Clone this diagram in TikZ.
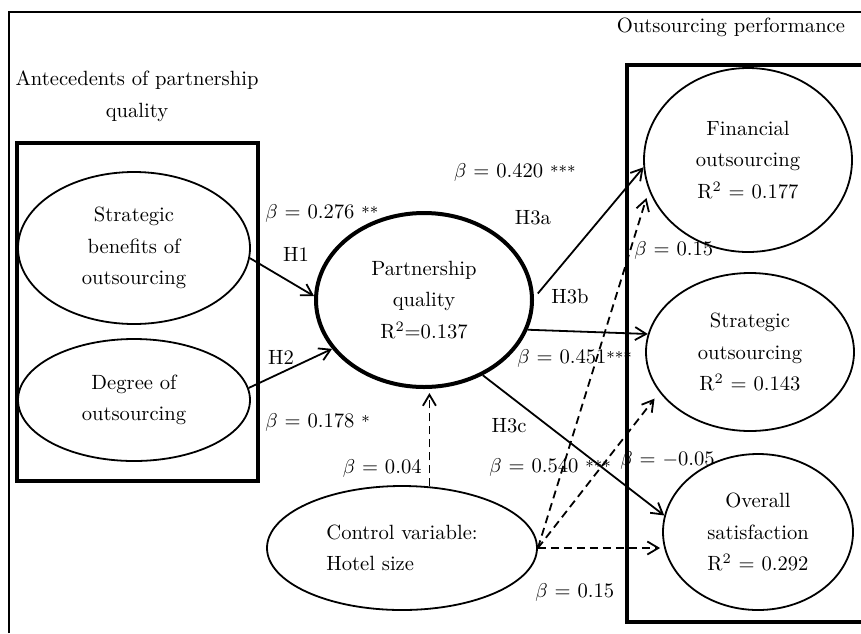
\documentclass[tikz,border=0pt]{standalone}
\usetikzlibrary{shapes.geometric,arrows.meta}
\newcommand{\rsq}{R\textsuperscript{2}}
\newcommand{\sig}[1]{{\footnotesize #1}}

\begin{document}
\begin{tikzpicture}[x=0.5pt, y=-0.5pt,
    >={Straight Barb[length=5.5pt,width=6.5pt]},
    every node/.style={font=\fontsize{10.3}{15.8}\selectfont},
    latent/.style={draw, ellipse, line width=0.9pt, inner sep=0pt, align=center},
    link/.style={->, line width=0.9pt},
    ctrllink/.style={->, dash pattern=on 4pt off 2.5pt, line width=0.9pt},
    pathlabel/.style={inner sep=0pt},
    groupbox/.style={line width=2.2pt}]
      \useasboundingbox (0,0) rectangle (861,633);

      % frame
      \draw[line width=0.85pt] (9,633) -- (9,12) -- (861,12);

      % group headings
      \node[align=center] (antlabel) at (137,96) {Antecedents of partnership\\quality};
      \node (perflabel) at (731,27) {Outsourcing performance};

      % constructs
      \node[latent, minimum width=116pt, minimum height=76pt] (strategic) at (134,248) {Strategic\\benefits of\\outsourcing};
      \node[latent, minimum width=116pt, minimum height=61pt] (degree) at (134,400) {Degree of\\outsourcing};
      \node[latent, line width=2pt, minimum width=108pt, minimum height=87pt] (partnership) at (424,300) {Partnership\\quality\\\rsq=0.137};
      \node[latent, minimum width=104pt, minimum height=92pt] (financial) at (748,160) {Financial\\outsourcing\\\rsq{} = 0.177};
      \node[latent, minimum width=104pt, minimum height=79pt] (stratout) at (750,352) {Strategic\\outsourcing\\\rsq{} = 0.143};
      \node[latent, minimum width=95pt, minimum height=78pt] (overall) at (758,532) {Overall\\satisfaction\\\rsq{} = 0.292};
      \node[latent, align=left, minimum width=135pt, minimum height=62pt] (control) at (402,548) {Control variable:\\Hotel size};

      % hypotheses
      \draw[link] (strategic.-5) -- (partnership.178);
      \draw[link] (degree.6) -- (partnership.208);
      \draw[link, shorten <=3pt] (partnership.1.5) -- (financial.184);
      \draw[link] (partnership.-16) -- (stratout.170);
      \draw[link] (partnership.-52) -- (overall.170);

      % control variable
      \draw[ctrllink, shorten >=2pt] (control.66) -- (control.66 |- partnership.south);
      \draw[ctrllink, shorten >=4pt] (control.east) -- (financial.197);
      \draw[ctrllink, shorten >=4pt] (control.east) -- (stratout.204);
      \draw[ctrllink, shorten >=1pt] (control.east) -- (control.east -| overall.west);

      % path labels
      \node[pathlabel, anchor=west] (beta1) at (265,213) {$\beta$ = 0.276 \sig{**}};
      \node (hyp1) at (296,254) {H1};
      \node (hyp2) at (281,357) {H2};
      \node[pathlabel, anchor=west] (beta2) at (265,422) {$\beta$ = 0.178 \sig{*}};
      \node[pathlabel, anchor=east] (beta3a) at (576,172) {$\beta$ = 0.420 \sig{***}};
      \node (hyp3a) at (533,218) {H3a};
      \node (hyp3b) at (570,297) {H3b};
      \node[pathlabel, anchor=west] (beta3b) at (517,358) {$\beta$ = 0.451\sig{***}};
      \node (hyp3c) at (509,426) {H3c};
      \node[pathlabel, anchor=west] (beta3c) at (489,467) {$\beta$ = 0.540 \sig{***}};
      \node[pathlabel, anchor=east] (ctrlbeta0) at (422,468) {$\beta$ = 0.04};
      \node[pathlabel, anchor=west] (ctrlbeta1) at (634,250) {$\beta$ = 0.15};
      \node[pathlabel, anchor=west] (ctrlbeta2) at (620,460) {$\beta$ = $-$0.05};
      \node[pathlabel, anchor=west] (ctrlbeta3) at (535,592) {$\beta$ = 0.15};

      % group boxes
      \draw[groupbox] (17,143) rectangle (258,481);
      \draw[groupbox] (866,65) -- (627,65) -- (627,622) -- (866,622);
    \end{tikzpicture}
\end{document}
